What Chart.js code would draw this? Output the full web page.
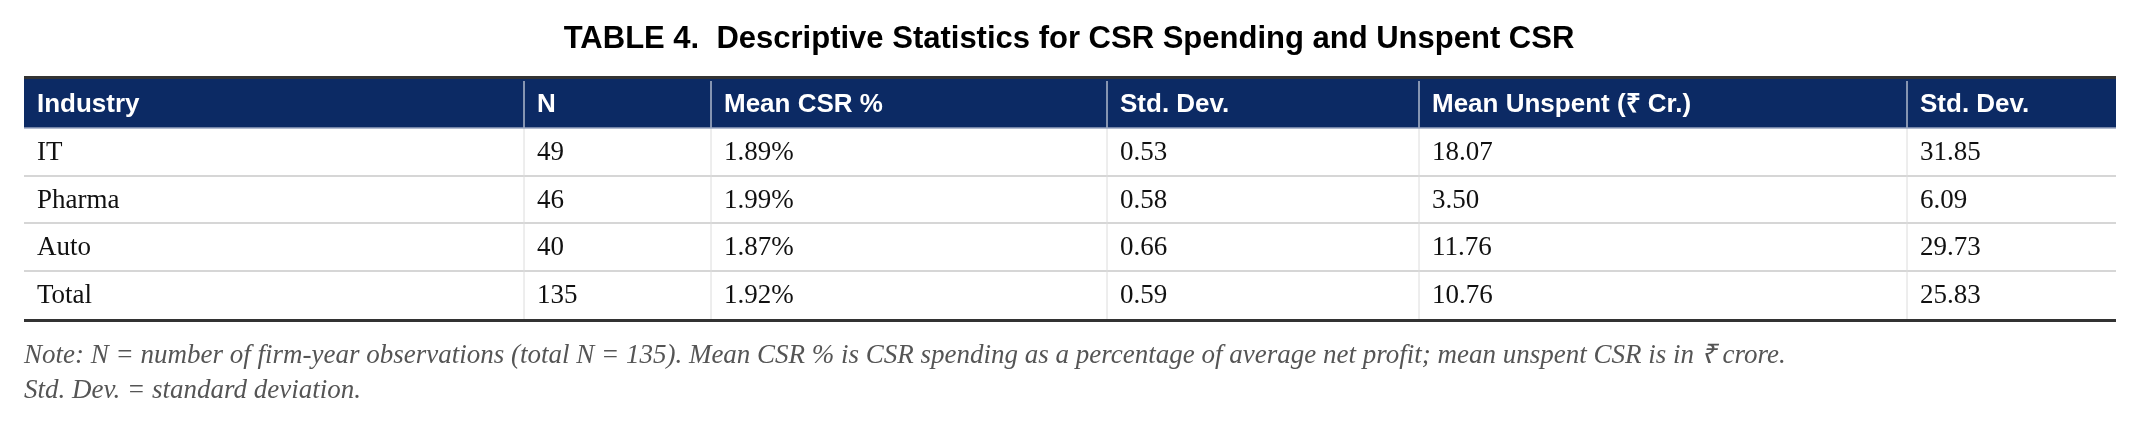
<!DOCTYPE html>
<html>
<head>
<meta charset="utf-8">
<script src="https://cdn.jsdelivr.net/npm/chart.js@4"></script>
<style>
  html, body { margin: 0; padding: 0; background: #fff; }
  canvas { display: block; }
</style>
</head>
<body>
<canvas id="table" width="2140" height="426"></canvas>
<script>
"use strict";

const TITLE = "TABLE 4.  Descriptive Statistics for CSR Spending and Unspent CSR";
const HEADERS = ["Industry", "N", "Mean CSR %", "Std. Dev.", "Mean Unspent (₹ Cr.)", "Std. Dev."];
const INDUSTRIES = ["IT", "Pharma", "Auto", "Total"];
const N_OBS = ["49", "46", "40", "135"];
const MEAN_CSR = ["1.89%", "1.99%", "1.87%", "1.92%"];
const SD_CSR = ["0.53", "0.58", "0.66", "0.59"];
const MEAN_UNSPENT = ["18.07", "3.50", "11.76", "10.76"];
const SD_UNSPENT = ["31.85", "6.09", "29.73", "25.83"];
const NOTES = [
    "Note: N = number of firm-year observations (total N = 135). Mean CSR % is CSR spending as a percentage of average net profit; mean unspent CSR is in ₹ crore.",
    "Std. Dev. = standard deviation."
];

// layout in scale units (scales map 1:1 onto the canvas)
let COL_EDGES = [24, 524, 711, 1107, 1419, 1907, 2116];
let ROW_EDGES = [79, 128, 176, 223, 271, 319];
let NAVY = "#0c2a64";

let tablePlugin = {
    id: "tablePlugin",
    afterDraw: function(chart) {
        let ctx = chart.ctx;
        let x = chart.scales.x;
        let y = chart.scales.y;
        let px = function(v) { return x.getPixelForValue(v); };
        let py = function(v) { return y.getPixelForValue(v); };
        let columns = [INDUSTRIES, N_OBS, MEAN_CSR, SD_CSR, MEAN_UNSPENT, SD_UNSPENT];
        let left = px(COL_EDGES[0]);
        let right = px(COL_EDGES[COL_EDGES.length - 1]);

        ctx.save();
        ctx.fillStyle = "#000";
        ctx.font = "bold 31px 'Liberation Sans', Arial, sans-serif";
        ctx.textAlign = "center";
        ctx.textBaseline = "middle";
        ctx.fillText(TITLE, px(1069), py(39));

        // header band
        ctx.fillStyle = NAVY;
        ctx.fillRect(left, py(ROW_EDGES[0]), right - left, py(ROW_EDGES[1]) - py(ROW_EDGES[0]));

        // row separators
        ctx.strokeStyle = "#c8c8c8";
        ctx.lineWidth = 1.5;
        for (let r = 2; r < ROW_EDGES.length - 1; ++r) {
            ctx.beginPath();
            ctx.moveTo(left, py(ROW_EDGES[r]));
            ctx.lineTo(right, py(ROW_EDGES[r]));
            ctx.stroke();
        }
        // column separators
        for (let c = 1; c < COL_EDGES.length - 1; ++c) {
            ctx.strokeStyle = "#dcdcdc";
            ctx.lineWidth = 1;
            ctx.beginPath();
            ctx.moveTo(px(COL_EDGES[c]), py(ROW_EDGES[1]));
            ctx.lineTo(px(COL_EDGES[c]), py(ROW_EDGES[ROW_EDGES.length - 1]));
            ctx.stroke();
            ctx.strokeStyle = "#ffffff";
            ctx.beginPath();
            ctx.moveTo(px(COL_EDGES[c]), py(ROW_EDGES[0]) + 2);
            ctx.lineTo(px(COL_EDGES[c]), py(ROW_EDGES[1]));
            ctx.stroke();
        }
        // header bottom line
        ctx.strokeStyle = "#9aa6c0";
        ctx.lineWidth = 1.5;
        ctx.beginPath();
        ctx.moveTo(left, py(ROW_EDGES[1]));
        ctx.lineTo(right, py(ROW_EDGES[1]));
        ctx.stroke();
        // thick rules
        ctx.strokeStyle = "#333";
        ctx.lineWidth = 3;
        for (let v of [ROW_EDGES[0] - 1.5, ROW_EDGES[ROW_EDGES.length - 1] + 1.5]) {
            ctx.beginPath();
            ctx.moveTo(left, py(v));
            ctx.lineTo(right, py(v));
            ctx.stroke();
        }

        // header text
        ctx.textAlign = "left";
        ctx.fillStyle = "#fff";
        ctx.font = "bold 26px 'Liberation Sans', Arial, sans-serif";
        for (let c = 0; c < HEADERS.length; ++c) {
            ctx.fillText(HEADERS[c], px(COL_EDGES[c] + 13), py((ROW_EDGES[0] + ROW_EDGES[1]) / 2 + 1));
        }
        // body text
        ctx.fillStyle = "#111";
        ctx.font = "27px 'Liberation Serif', 'Times New Roman', serif";
        for (let c = 0; c < columns.length; ++c) {
            for (let r = 0; r < columns[c].length; ++r) {
                ctx.fillText(columns[c][r], px(COL_EDGES[c] + 13), py((ROW_EDGES[r + 1] + ROW_EDGES[r + 2]) / 2 + 1));
            }
        }
        // notes
        ctx.fillStyle = "#555";
        ctx.font = "italic 27px 'Liberation Serif', 'Times New Roman', serif";
        ctx.fillText(NOTES[0], px(24), py(356));
        ctx.fillText(NOTES[1], px(24), py(391));
        ctx.restore();
    }
};

new Chart(document.getElementById("table"), {
    type: "scatter",
    data: { datasets: [{ data: [] }] },
    options: {
        responsive: false,
        animation: false,
        devicePixelRatio: 1,
        layout: { padding: 0 },
        plugins: { legend: { display: false }, tooltip: { enabled: false } },
        scales: {
            x: { type: "linear", min: 0, max: 2140, display: false },
            y: { type: "linear", min: 0, max: 426, reverse: true, display: false }
        }
    },
    plugins: [tablePlugin]
});
</script>
</body>
</html>
